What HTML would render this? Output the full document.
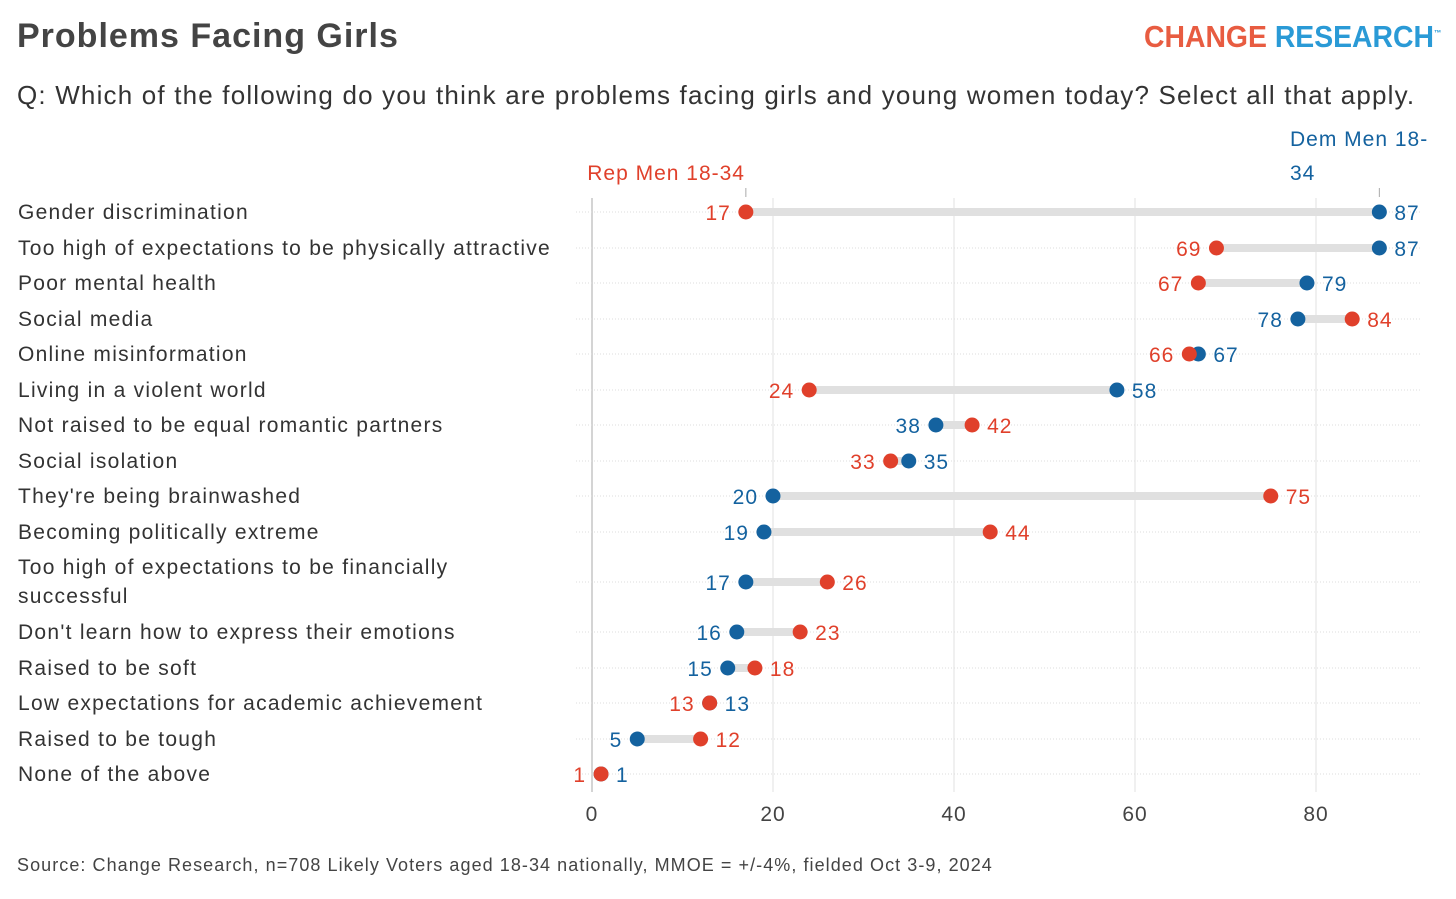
<!DOCTYPE html>
<html><head><meta charset="utf-8"><style>
body{margin:0;background:#fff;font-family:"Liberation Sans",sans-serif;}
#wrap{position:relative;width:1456px;height:899px;overflow:hidden}
.t{position:absolute;white-space:nowrap}
svg text{letter-spacing:1px}
</style></head><body><div id="wrap">
<div class="t" style="left:17px;top:17px;font-size:34px;font-weight:bold;color:#444;letter-spacing:1px">Problems Facing Girls</div>
<div class="t" style="left:1144px;top:19px;font-size:31px;font-weight:bold;transform:scaleX(0.915);transform-origin:left top"><span style="color:#e85c41">CHANGE</span> <span style="color:#2a9ad6">RESEARCH</span><sup style="font-size:8px;color:#2a9ad6">™</sup></div>
<div class="t" style="left:17px;top:80px;font-size:26px;color:#333;letter-spacing:1.18px">Q: Which of the following do you think are problems facing girls and young women today? Select all that apply.</div>
<div class="t" style="left:17px;top:855px;font-size:18px;color:#444;letter-spacing:1.06px">Source: Change Research, n=708 Likely Voters aged 18-34 nationally, MMOE = +/-4%, fielded Oct 3-9, 2024</div>
<svg id="c" width="1456" height="899" style="position:absolute;left:0;top:0"></svg>
</div>
<script>
const categories=["Gender discrimination","Too high of expectations to be physically attractive","Poor mental health","Social media","Online misinformation","Living in a violent world","Not raised to be equal romantic partners","Social isolation","They're being brainwashed","Becoming politically extreme","Too high of expectations to be financially|successful","Don't learn how to express their emotions","Raised to be soft","Low expectations for academic achievement","Raised to be tough","None of the above"];
const repValues=[17,69,67,84,66,24,42,33,75,44,26,23,18,13,12,1];
const demValues=[87,87,79,78,67,58,38,35,20,19,17,16,15,13,5,1];
const rowY=[212,248,283,319,354,390,425,461,496,532,582,632,668,703,739,774];
const ticks=[0,20,40,60,80];
const RED="#e0402b",BLUE="#14629f";
const x=v=>592+v*9.05;
const svg=document.getElementById('c');const NS="http://www.w3.org/2000/svg";
function mk(tag,attrs,txt){const e=document.createElementNS(NS,tag);for(const k in attrs)e.setAttribute(k,attrs[k]);if(txt!==undefined)e.textContent=txt;svg.appendChild(e);return e;}
ticks.forEach(t=>{
 const g=mk('line',{x1:x(t),x2:x(t),y1:198,y2:792,stroke:t===0?'#aaa':'#e2e2e2','stroke-width':1});
 
 
 const l=mk('text',{x:x(t),y:821,'font-size':21,fill:'#444','text-anchor':'middle'},t);
 
 
});
categories.forEach((c,i)=>{
 const y=rowY[i];
 const d=mk('line',{x1:576,x2:1420,y1:y,y2:y,stroke:'#ddd','stroke-dasharray':'1 2','stroke-width':1});
 
 
 const parts=c.split('|');
 const ty=parts.length>1?y-8:y+7;
 parts.forEach((p,j)=>{
  const t=mk('text',{x:18,y:ty+j*29,'font-size':21,fill:'#333',style:'letter-spacing:1.27px'},p);
  
  
 });
 const r=repValues[i],b=demValues[i];
 const bar=mk('line',{x1:x(r),x2:x(b),y1:y,y2:y,stroke:'#e0e0e0','stroke-width':8});
 
 
 const redLeft=r<=b;
 const bc=mk('circle',{cx:x(b),cy:y,r:7.5,fill:BLUE});
 
 
 const rc=mk('circle',{cx:x(r),cy:y,r:7.5,fill:RED});
 
 
 const rl=mk('text',{x:redLeft?x(r)-15:x(r)+15,y:y+8,'font-size':21,fill:RED,'text-anchor':redLeft?'end':'start'},r);
 
 
 const bl=mk('text',{x:redLeft?x(b)+15:x(b)-15,y:y+8,'font-size':21,fill:BLUE,'text-anchor':redLeft?'start':'end'},b);
 
 
});
const a1=mk('text',{x:745,y:180,'font-size':21,fill:RED,'text-anchor':'end'},'Rep Men 18-34');


const k1=mk('line',{x1:x(17),x2:x(17),y1:188,y2:197,stroke:'#aaa'});


const a2=mk('text',{x:1290,y:146,'font-size':21,fill:BLUE},'Dem Men 18-');


const a3=mk('text',{x:1290,y:180,'font-size':21,fill:BLUE},'34');


const k2=mk('line',{x1:x(87),x2:x(87),y1:188,y2:197,stroke:'#aaa'});


</script></body></html>
